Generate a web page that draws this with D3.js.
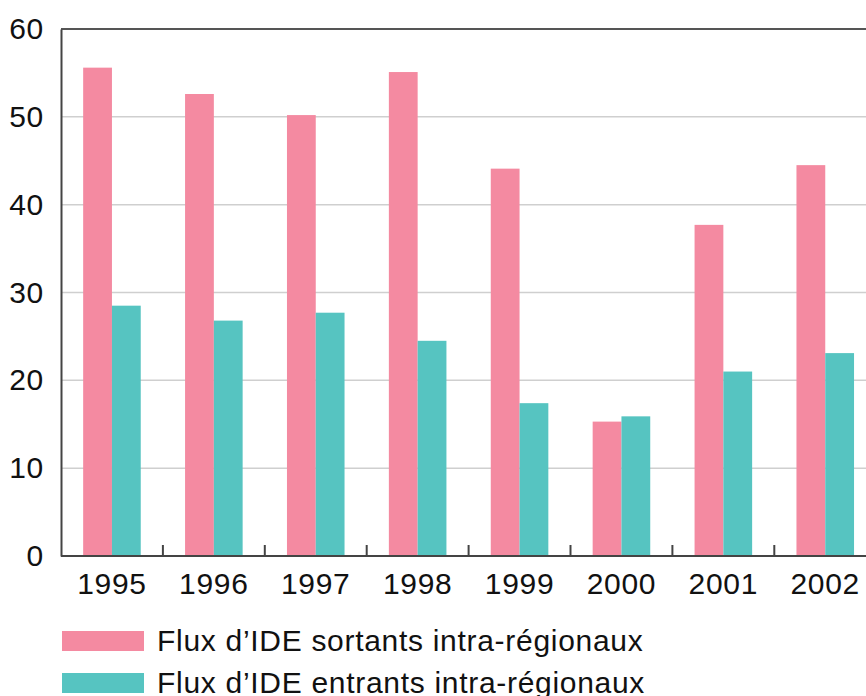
<!DOCTYPE html>
<html>
<head>
<meta charset="utf-8">
<script src="https://cdn.jsdelivr.net/npm/d3@7"></script>
<style>
  body { margin: 0; background: #fff; }
  svg { display: block; font-family: "Liberation Sans", Arial, sans-serif; }
</style>
</head>
<body>
<div id="chart"></div>
<script>
// data
var years = ["1995", "1996", "1997", "1998", "1999", "2000", "2001", "2002"];
var sortants = [55.6, 52.6, 50.2, 55.1, 44.1, 15.3, 37.7, 44.5];
var entrants = [28.5, 26.8, 27.7, 24.5, 17.4, 15.9, 21.0, 23.1];
var seriesNames = ["Flux d\u2019IDE sortants intra-r\u00e9gionaux", "Flux d\u2019IDE entrants intra-r\u00e9gionaux"];
var yTicks = [0, 10, 20, 30, 40, 50, 60];

var colors = ["#f48aa1", "#56c4c1"];

var W = 866, H = 696;
var plotLeft = 61, plotTop = 29, plotBottom = 556;
var groupW = 101.9;
var fs = 30, ls = 0.7;

var svg = d3.select("#chart").append("svg")
    .attr("width", W)
    .attr("height", H);

var y = d3.scaleLinear().domain([0, 60]).range([plotBottom, plotTop]);

var x0 = d3.scaleBand()
    .domain(years)
    .range([plotLeft, plotLeft + groupW * years.length])
    .padding(0);

var x1 = d3.scaleBand()
    .domain([0, 1])
    .range([0, x0.bandwidth()])
    .paddingInner(0)
    .paddingOuter(0.77);

// gridlines
svg.append("g")
    .selectAll("line")
    .data(yTicks.filter(function(d) { return d > 0 && d < 60; }))
    .enter().append("line")
    .attr("x1", plotLeft)
    .attr("x2", W)
    .attr("y1", function(d) { return y(d); })
    .attr("y2", function(d) { return y(d); })
    .attr("stroke", "#cfcfcf")
    .attr("stroke-width", 1.5);

// bars
var groups = svg.append("g")
    .selectAll("g")
    .data(years)
    .enter().append("g")
    .attr("transform", function(d) { return "translate(" + x0(d) + ",0)"; });

groups.selectAll("rect")
    .data(function(d, i) { return [sortants[i], entrants[i]]; })
    .enter().append("rect")
    .attr("x", function(d, j) { return x1(j); })
    .attr("width", x1.bandwidth())
    .attr("y", function(d) { return y(d); })
    .attr("height", function(d) { return plotBottom - y(d); })
    .attr("fill", function(d, j) { return colors[j]; });

// frame: top line and left axis
svg.append("line")
    .attr("x1", plotLeft).attr("x2", W)
    .attr("y1", plotTop).attr("y2", plotTop)
    .attr("stroke", "#555").attr("stroke-width", 2);

var yAxis = svg.append("g")
    .attr("transform", "translate(" + plotLeft + ",0)")
    .call(d3.axisLeft(y).tickValues(yTicks).tickSize(0).tickPadding(17));
yAxis.select(".domain").attr("stroke", "#444").attr("stroke-width", 2);
yAxis.selectAll("text")
    .attr("font-size", fs)
    .attr("letter-spacing", ls)
    .attr("fill", "#111")
    .attr("font-family", "Liberation Sans, Arial, sans-serif");

// x axis with ticks between groups
var xAxis = svg.append("g")
    .attr("transform", "translate(0," + plotBottom + ")");
xAxis.append("line")
    .attr("x1", plotLeft).attr("x2", W)
    .attr("stroke", "#444").attr("stroke-width", 2);
xAxis.selectAll(".sep")
    .data(years.slice(1))
    .enter().append("line")
    .attr("class", "sep")
    .attr("x1", function(d) { return x0(d); })
    .attr("x2", function(d) { return x0(d); })
    .attr("y1", 0).attr("y2", -11)
    .attr("stroke", "#444").attr("stroke-width", 2);
xAxis.selectAll(".lab")
    .data(years)
    .enter().append("text")
    .attr("class", "lab")
    .attr("x", function(d) { return x0(d) + x0.bandwidth() / 2; })
    .attr("y", 38)
    .attr("text-anchor", "middle")
    .attr("font-size", fs)
    .attr("letter-spacing", ls)
    .attr("fill", "#111")
    .text(function(d) { return d; });

// legend
var legend = svg.append("g")
    .selectAll("g")
    .data(seriesNames)
    .enter().append("g")
    .attr("transform", function(d, i) { return "translate(62," + (631 + i * 42) + ")"; });
legend.append("rect")
    .attr("width", 82).attr("height", 20)
    .attr("fill", function(d, i) { return colors[i]; });
legend.append("text")
    .attr("x", 95).attr("y", 20)
    .attr("font-size", fs)
    .attr("letter-spacing", ls)
    .attr("fill", "#111")
    .text(function(d) { return d; });
</script>
</body>
</html>
